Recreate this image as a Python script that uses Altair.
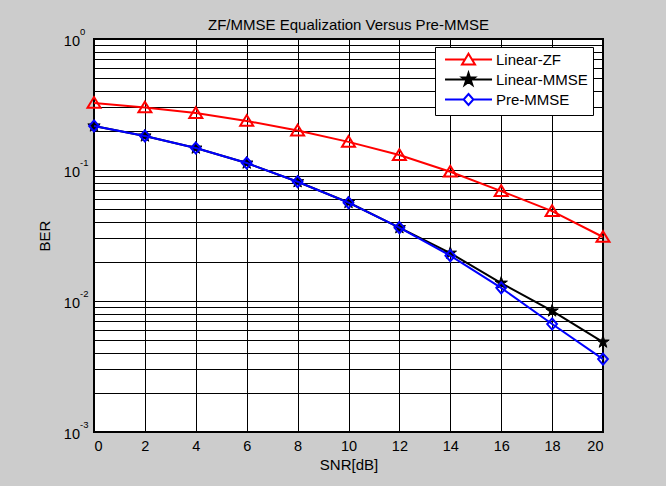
import altair as alt
import pandas as pd

# ---------------- data ----------------
snr = [0, 2, 4, 6, 8, 10, 12, 14, 16, 18, 20]
ber_zf = [0.325, 0.300, 0.272, 0.237, 0.200, 0.164, 0.130, 0.097, 0.069, 0.0486, 0.0308]
ber_mmse = [0.217, 0.182, 0.147, 0.113, 0.0814, 0.0565, 0.0363, 0.0232, 0.0137, 0.0084, 0.00486]
ber_pre = [0.217, 0.182, 0.147, 0.113, 0.0814, 0.0563, 0.0363, 0.0222, 0.0126, 0.00667, 0.0036]

series_names = ["Linear-ZF", "Linear-MMSE", "Pre-MMSE"]
series_colors = ["#ff0000", "#000000", "#0000ff"]

x_ticks = [0, 2, 4, 6, 8, 10, 12, 14, 16, 18, 20]
y_major = [1, 0.1, 0.01, 0.001]
y_exps = ["0", "-1", "-2", "-3"]
y_grid = [0.001, 0.002, 0.003, 0.004, 0.005, 0.006, 0.007, 0.008, 0.009,
          0.01, 0.02, 0.03, 0.04, 0.05, 0.06, 0.07, 0.08, 0.09,
          0.1, 0.2, 0.3, 0.4, 0.5, 0.6, 0.7, 0.8, 0.9, 1]

rows = []
for name, vals in zip(series_names, [ber_zf, ber_mmse, ber_pre]):
    for s, b in zip(snr, vals):
        rows.append({"snr": s, "ber": b, "series": name})
df = pd.DataFrame(rows)
labels_df = pd.DataFrame({"ber": y_major, "e": y_exps})

FONT = "Liberation Sans"

# ---------------- marker shapes (unit coordinates) ----------------
TRI_PTS = [(0, -0.9), (1, 0.75), (-1, 0.75)]
DIA_PTS = [(0, -0.85), (0.75, 0), (0, 0.85), (-0.75, 0)]
STAR_PTS = [(0, -1), (0.223, -0.307), (0.951, -0.309), (0.361, 0.117), (0.588, 0.809),
            (0, 0.38), (-0.588, 0.809), (-0.361, 0.117), (-0.951, -0.309), (-0.223, -0.307)]


def poly(pts, dx=0.0):
    return "M" + "L".join(f"{x + dx:.3f},{y:.3f}" for x, y in pts) + "Z"


TRI = poly(TRI_PTS)
DIA = poly(DIA_PTS)
STAR = poly(STAR_PTS)

# legend symbols: line + marker, marker shifted right of the symbol anchor
SH = 3.23          # marker centre offset (units of 6.5 px)
L0, L1 = -0.38, 6.85


def seg(a, b):
    return f"M{a:.3f},0L{b:.3f},0"


LEG_TRI = seg(L0, SH - 0.55) + seg(SH + 0.55, L1) + poly(TRI_PTS, SH)
LEG_STAR = seg(L0, L1) + poly(STAR_PTS, SH)
LEG_DIA = seg(L0, SH - 0.75) + seg(SH + 0.75, L1) + poly(DIA_PTS, SH)

xscale = alt.Scale(domain=[0, 20], nice=False)
yscale = alt.Scale(type="log", domain=[0.001, 1], nice=False)

x_axis = alt.Axis(values=x_ticks, title="SNR[dB]", grid=True, ticks=False,
                  domain=False, labelPadding=7, titlePadding=5, format="d")
y_axis = alt.Axis(values=y_grid, title="BER", grid=True, ticks=False,
                  domain=False, labels=False, titlePadding=42)

X = alt.X("snr:Q", scale=xscale, axis=x_axis)
Y = alt.Y("ber:Q", scale=yscale, axis=y_axis)

base = alt.Chart(df)

marker_defs = {
    "Linear-ZF": dict(shape=TRI, filled=False, stroke="#ff0000", strokeWidth=2),
    "Linear-MMSE": dict(shape=STAR, filled=True, fill="#000000", stroke="#000000", strokeWidth=1),
    "Pre-MMSE": dict(shape=DIA, filled=False, stroke="#0000ff", strokeWidth=2),
}

layers = []
for name, col in zip(series_names, series_colors):
    sub = base.transform_filter(alt.datum.series == name)
    layers.append(sub.mark_line(strokeWidth=2, color=col).encode(x=X, y=Y))
    layers.append(sub.mark_point(size=169, opacity=1, **marker_defs[name]).encode(x=X, y=Y))

legend_layer = base.mark_point(opacity=0, size=169, strokeWidth=2).encode(
    x=X, y=Y,
    shape=alt.Shape("series:N",
                    scale=alt.Scale(domain=series_names, range=[LEG_TRI, LEG_STAR, LEG_DIA]),
                    legend=alt.Legend(title=None, orient="none", legendX=341, legendY=8,
                                      symbolSize=169, symbolStrokeWidth=2,
                                      symbolOpacity=1,
                                      symbolOffset=0, labelOffset=41,
                                      labelFontSize=15, labelFont=FONT,
                                      labelColor="#000000",
                                      padding=5, rowPadding=0,
                                      strokeColor="#000000", fillColor="#ffffff")),
    stroke=alt.Stroke("series:N",
                      scale=alt.Scale(domain=series_names, range=series_colors)),
    fill=alt.Fill("series:N",
                  scale=alt.Scale(domain=series_names,
                                  range=["transparent", "#000000", "transparent"])),
)

ten = alt.Chart(labels_df).mark_text(
    text="10", align="right", baseline="middle", fontSize=14.5, font=FONT,
    color="#000000", dy=2.5
).encode(x=alt.value(-14), y=alt.Y("ber:Q", scale=yscale, axis=y_axis))

expo = alt.Chart(labels_df).mark_text(
    align="left", baseline="middle", fontSize=9.5, font=FONT,
    color="#000000", dy=-7
).encode(x=alt.value(-14), y=alt.Y("ber:Q", scale=yscale, axis=y_axis), text="e:N")

chart = alt.layer(*layers, legend_layer, ten, expo).properties(
    width=509, height=393,
    title=alt.TitleParams("ZF/MMSE Equalization Versus Pre-MMSE", fontSize=15,
                          font=FONT, fontWeight="normal", color="#000000",
                          anchor="middle", frame="group", offset=-6),
    autosize=alt.AutoSizeParams(type="none"),
    padding={"left": 94, "top": 39, "right": 63, "bottom": 54},
    background="#cccccc",
).configure_view(
    fill="#ffffff", stroke="#000000", strokeWidth=2
).configure_axis(
    gridColor="#000000", gridOpacity=1, gridWidth=1,
    labelFont=FONT, labelFontSize=14.5, labelColor="#000000",
    titleFont=FONT, titleFontSize=15, titleColor="#000000", titleFontWeight="normal",
)

chart.save("out.html", embed_options={"renderer": "svg", "actions": False})
